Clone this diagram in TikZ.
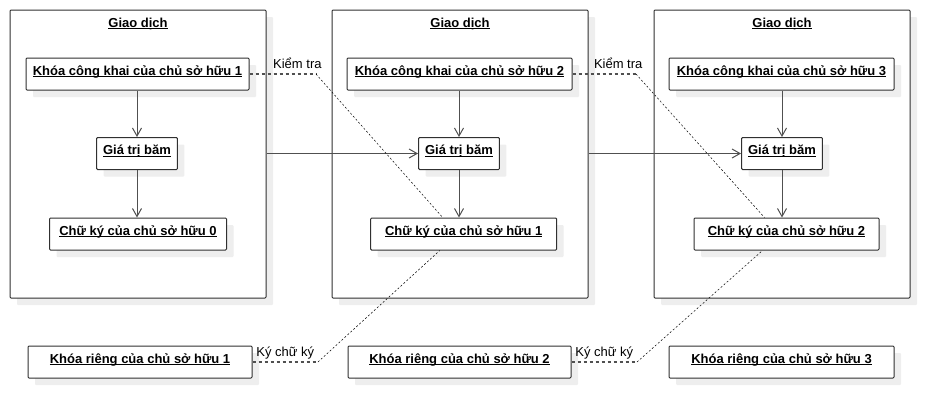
\documentclass[tikz,border=0pt]{standalone}
\usepackage{fontspec}
\setmainfont{Liberation Sans}
\usetikzlibrary{arrows.meta,shadows}
\definecolor{linegray}{HTML}{505050}
\definecolor{shadegray}{HTML}{EEEEEE}
\definecolor{edgegray}{HTML}{303030}
% bold text with a rule close under the baseline
\newcommand\ulb[1]{\setbox0=\hbox{\bfseries #1}\rlap{\copy0}\rule[-2.2pt]{\wd0}{0.9pt}}
\tikzset{
  boxshadow/.style={drop shadow={shadow xshift=7pt,shadow yshift=-7pt,fill=shadegray,opacity=1}},
  txbox/.style={draw=edgegray,line width=1pt,fill=white,rounded corners=1pt,
    minimum width=256pt,minimum height=288pt,boxshadow},
  itembox/.style={draw=edgegray,line width=1pt,fill=white,rounded corners=1pt,
    minimum height=32pt,inner xsep=6.5pt,text height=8pt,text depth=6pt,boxshadow},
  arr/.style={draw=linegray,line width=1pt,-{Straight Barb[length=8pt,width=9pt]}},
  keyline/.style={draw=linegray,line width=1.1pt,dash pattern=on 3pt off 3pt},
  thinline/.style={draw=black,line width=0.5pt,dash pattern=on 2pt off 2pt}
}
\begin{document}
\begin{tikzpicture}[x=1pt,y=-1pt,every node/.style={font=\fontsize{13}{15}\selectfont}]
\useasboundingbox (0,0) rectangle (950,418);
% transactions
\node[txbox] (tx1) at (138,154) {};
\node[txbox] (tx2) at (460,154) {};
\node[txbox] (tx3) at (782,154) {};
\node[anchor=base] (title1) at (138,27) {\ulb{Giao dịch}};
\node[anchor=base] (title2) at (460,27) {\ulb{Giao dịch}};
\node[anchor=base] (title3) at (782,27) {\ulb{Giao dịch}};
% keys, hashes, signatures
\node[itembox,minimum width=223pt] (pub1) at (137.5,74) {\ulb{Khóa công khai của chủ sở hữu 1}};
\node[itembox,minimum width=225pt] (pub2) at (459.5,74) {\ulb{Khóa công khai của chủ sở hữu 2}};
\node[itembox,minimum width=225pt] (pub3) at (781.5,74) {\ulb{Khóa công khai của chủ sở hữu 3}};
\node[itembox,minimum width=78pt] (hash1) at (137,153.5) {\ulb{Giá trị băm}};
\node[itembox,minimum width=80pt] (hash2) at (459,153.5) {\ulb{Giá trị băm}};
\node[itembox,minimum width=80pt] (hash3) at (782,153.5) {\ulb{Giá trị băm}};
\node[itembox,minimum width=177pt] (sig1) at (138,234) {\ulb{Chữ ký của chủ sở hữu 0}};
\node[itembox,minimum width=186pt] (sig2) at (463.7,234) {\ulb{Chữ ký của chủ sở hữu 1}};
\node[itembox,minimum width=185pt] (sig3) at (786.5,234) {\ulb{Chữ ký của chủ sở hữu 2}};
\node[itembox,minimum width=224pt] (priv1) at (140,362) {\ulb{Khóa riêng của chủ sở hữu 1}};
\node[itembox,minimum width=223pt] (priv2) at (459.5,362) {\ulb{Khóa riêng của chủ sở hữu 2}};
\node[itembox,minimum width=225pt] (priv3) at (781.5,362) {\ulb{Khóa riêng của chủ sở hữu 3}};
% arrows
\draw[arr] (pub1.south -| hash1) -- (hash1.north);
\draw[arr] (pub2.south -| hash2) -- (hash2.north);
\draw[arr] (pub3.south -| hash3) -- (hash3.north);
\draw[arr] (hash1.south) -- (hash1.south |- sig1.north);
\draw[arr] (hash2.south) -- (hash2.south |- sig2.north);
\draw[arr] (hash3.south) -- (hash3.south |- sig3.north);
\draw[arr] (tx1.east |- hash2) -- (hash2.west);
\draw[arr] (tx2.east |- hash3) -- (hash3.west);
% check and sign
\coordinate (chk1) at (316,74);
\coordinate (chk2) at (636,74);
\coordinate (sgn1) at (318,362);
\coordinate (sgn2) at (637,362);
\draw[keyline] (pub1.east) -- node[pos=.72,anchor=base,yshift=5.5pt] {Kiểm tra} (chk1);
\draw[thinline] (chk1) -- ([xshift=-21pt]sig2.north);
\draw[keyline] (pub2.east) -- node[pos=.72,anchor=base,yshift=5.5pt] {Kiểm tra} (chk2);
\draw[thinline] (chk2) -- ([xshift=-22pt]sig3.north);
\draw[keyline] (priv1.east) -- node[midway,anchor=base,yshift=6pt] {Ký chữ ký} (sgn1);
\draw[thinline] (sgn1) -- ([xshift=-24pt]sig2.south);
\draw[keyline] (priv2.east) -- node[midway,anchor=base,yshift=6pt] {Ký chữ ký} (sgn2);
\draw[thinline] (sgn2) -- ([xshift=-24pt]sig3.south);
\end{tikzpicture}
\end{document}
